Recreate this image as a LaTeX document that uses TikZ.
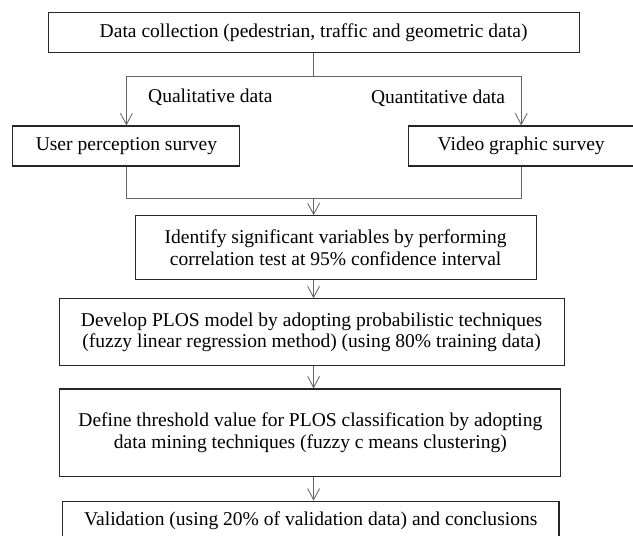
\documentclass[tikz,border=0pt]{standalone}
\usepackage{fontspec}
\setmainfont{Liberation Serif}
\usetikzlibrary{arrows.meta}

\begin{document}
\begin{tikzpicture}[
   box/.style={draw=black!85,line width=0.8pt,align=center,minimum height=1cm,
      inner sep=2pt,font=\fontsize{13.9}{15.4}\selectfont},
   link/.style={draw=black!60,line width=0.6pt},
   tip/.style={link,-{Straight Barb[length=8pt,width=8.5pt,line width=0.6pt]}},
   lbl/.style={font=\fontsize{13.9}{15.4}\selectfont}]
   \clip (0,0) rectangle (15.825,-13.4);
   \node[box,minimum width=13.275cm] (collect) at (7.84,-0.82)
      {Data collection (pedestrian, traffic and geometric data)};
   \node[box,minimum width=5.675cm] (user) at (3.16,-3.65) {User perception survey};
   \node[box,minimum width=5.65cm] (video) at (13.03,-3.65) {Video graphic survey};
   \node[box,minimum width=10.025cm,minimum height=1.59cm] (ident) at (8.39,-6.19)
      {Identify significant variables by performing\\correlation test at 95\% confidence interval};
   \node[box,minimum width=12.625cm,minimum height=1.675cm] (develop) at (7.79,-8.31)
      {Develop PLOS model by adopting probabilistic techniques\\(fuzzy linear regression method) (using 80\% training data)};
   \node[box,minimum width=12.525cm,minimum height=2.19cm] (thresh) at (7.76,-10.82)
      {Define threshold value for PLOS classification by adopting\\data mining techniques (fuzzy c means clustering)};
   \node[box,minimum width=12.41cm] (valid) at (7.77,-13.03)
      {Validation (using 20\% of validation data) and conclusions};
   \coordinate (split) at (7.84,-1.91);
   \coordinate (merge) at (7.84,-4.96);
   \draw[link] (collect.south) -- (split);
   \draw[tip] (split) -| (user.north);
   \draw[tip] (split) -| (video.north);
   \node[lbl,anchor=west] (qual) at (3.58,-2.43) {Qualitative data};
   \node[lbl,anchor=east] (quant) at (12.75,-2.45) {Quantitative data};
   \draw[link] (user.south) |- (merge);
   \draw[link] (video.south) |- (merge);
   \draw[tip] (merge) -- (merge |- ident.north);
   \draw[tip] (merge |- ident.south) -- (merge |- develop.north);
   \draw[tip] (merge |- develop.south) -- (merge |- thresh.north);
   \draw[tip] (merge |- thresh.south) -- (merge |- valid.north);
\end{tikzpicture}
\end{document}
